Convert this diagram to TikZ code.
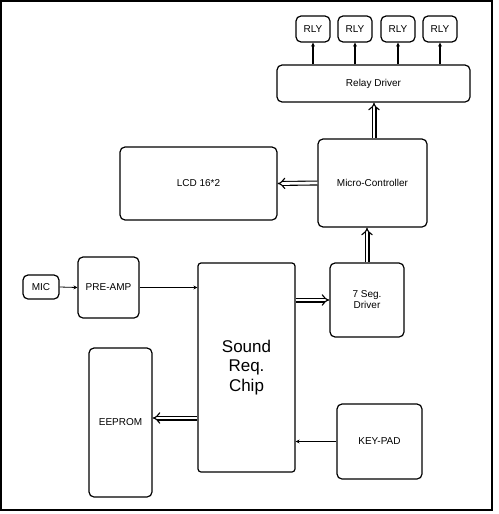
\documentclass[tikz,border=0pt]{standalone}
\usepackage{fontspec}
\setmainfont{Liberation Sans}
\usetikzlibrary{positioning,arrows.meta,calc}

\begin{document}
\begin{tikzpicture}[x=1pt, y=-1pt,
  every node/.style={font=\fontsize{10}{11}\selectfont},
  blk/.style={rectangle, rounded corners=5pt, draw=black, line width=1.2pt,
              align=center, inner sep=1pt},
  sarrow/.style={-{Stealth[length=4pt,width=4pt]}, line width=0.8pt},
  rarrow/.style={-{Stealth[length=4pt,width=4pt]}, line width=1.3pt},
  darrow/.style={-{Implies}, double, double distance=2.8pt, line width=1.1pt}
]
  \useasboundingbox (0,0) rectangle (498,514);
  \draw[line width=1.2pt] (1,1) rectangle (492,510);

  % relays and driver
  \foreach \i/\x in {1/313,2/355,3/398,4/440}
    \node[blk, minimum width=34pt, minimum height=26pt] (rly\i) at (\x,29) {RLY};
  \node[blk, minimum width=193pt, minimum height=37pt] (relay) at (373.5,83.5) {Relay Driver};

  % controller and display
  \node[blk, minimum width=109pt, minimum height=88pt] (mcu) at (372.5,183) {Micro-Controller};
  \node[blk, minimum width=157pt, minimum height=73pt] (lcd) at (198.5,183.5) {LCD 16*2};

  % audio input
  \node[blk, minimum width=36pt, minimum height=24pt] (mic) at (41,287) {MIC};
  \node[blk, minimum width=61pt, minimum height=61pt] (preamp) at (108.5,287.5) {PRE-AMP};

  % main chip and peripherals
  \node[blk, rounded corners=3pt, minimum width=97pt, minimum height=209pt,
        font=\fontsize{17}{19.5}\selectfont] (chip) at (246.5,367.5) {Sound\\Req.\\Chip};
  \node[blk, minimum width=74pt, minimum height=74pt] (seg) at (367,300) {7 Seg.\\Driver};
  \node[blk, minimum width=63pt, minimum height=149pt] (eeprom) at (120.5,422.5) {EEPROM};
  \node[blk, minimum width=85pt, minimum height=75pt] (keypad) at (379.5,441.5) {KEY-PAD};

  % connections
  \foreach \i in {1,...,4}
    \draw[rarrow] (relay.north -| rly\i) -- (rly\i.south);
  \draw[darrow] ($(mcu.north)+(1.5,0)$) -- ($(mcu.north |- relay.south)+(1.5,0)$);
  \draw[darrow] (mcu.west) -- (lcd.east);
  \draw[darrow] (seg.north) -- (seg.north |- mcu.south);
  \draw[darrow] (chip.east |- seg.west) -- (seg.west);
  \draw[darrow] ($(chip.west |- eeprom.east)+(0,-4.5)$) -- ($(eeprom.east)+(0,-4.5)$);
  \draw[sarrow] (mic.east) -- (preamp.west);
  \draw[sarrow] (preamp.east) -- (preamp.east -| chip.west);
  \draw[sarrow] (keypad.west) -- (keypad.west -| chip.east);
\end{tikzpicture}
\end{document}
